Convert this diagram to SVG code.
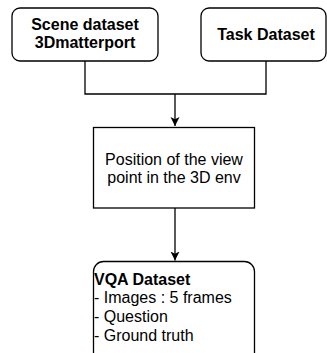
<svg xmlns="http://www.w3.org/2000/svg" width="327" height="353" viewBox="0 0 327 353">
<style>
.box{fill:#fff;stroke:#000;stroke-width:1.3}
.t{font-family:"Liberation Sans",Arial,sans-serif;font-size:16px;fill:#000}
.b{font-weight:bold}
.c{fill:none;stroke:#000;stroke-width:1.3}
</style>
<defs>
<marker id="ah" viewBox="0 0 10 10" refX="10" refY="5" markerWidth="9" markerHeight="10" markerUnits="userSpaceOnUse" orient="auto">
<path d="M0,0 L10,5 L0,10 L2.5,5 Z" fill="#000"/>
</marker>
</defs>
<rect width="327" height="353" fill="#fff"/>
<g id="connectors">
<path class="c" d="M85,61 V94 H266 V61"/>
<path class="c" d="M175,94 V126" marker-end="url(#ah)"/>
<path class="c" d="M175,208 V260.5" marker-end="url(#ah)"/>
</g>
<g id="scene">
<rect class="box" x="12" y="8" width="146" height="53" rx="8"/>
<text class="t b" x="85" y="30" text-anchor="middle">Scene dataset</text>
<text class="t b" x="85" y="48" text-anchor="middle">3Dmatterport</text>
</g>
<g id="task">
<rect class="box" x="201" y="8" width="125" height="53" rx="8"/>
<text class="t b" x="266" y="40" text-anchor="middle">Task Dataset</text>
</g>
<g id="position">
<rect class="box" x="93.5" y="127.5" width="161" height="80.5"/>
<text class="t" x="174" y="165" text-anchor="middle">Position of the view</text>
<text class="t" x="174" y="183" text-anchor="middle">point in the 3D env</text>
</g>
<g id="vqa">
<rect class="box" x="93.5" y="261.5" width="161" height="110" rx="10"/>
<text class="t b" x="94" y="285">VQA Dataset</text>
<text class="t" x="94" y="303">- Images : 5 frames</text>
<text class="t" x="94" y="322">- Question</text>
<text class="t" x="94" y="341">- Ground truth</text>
</g>
</svg>
